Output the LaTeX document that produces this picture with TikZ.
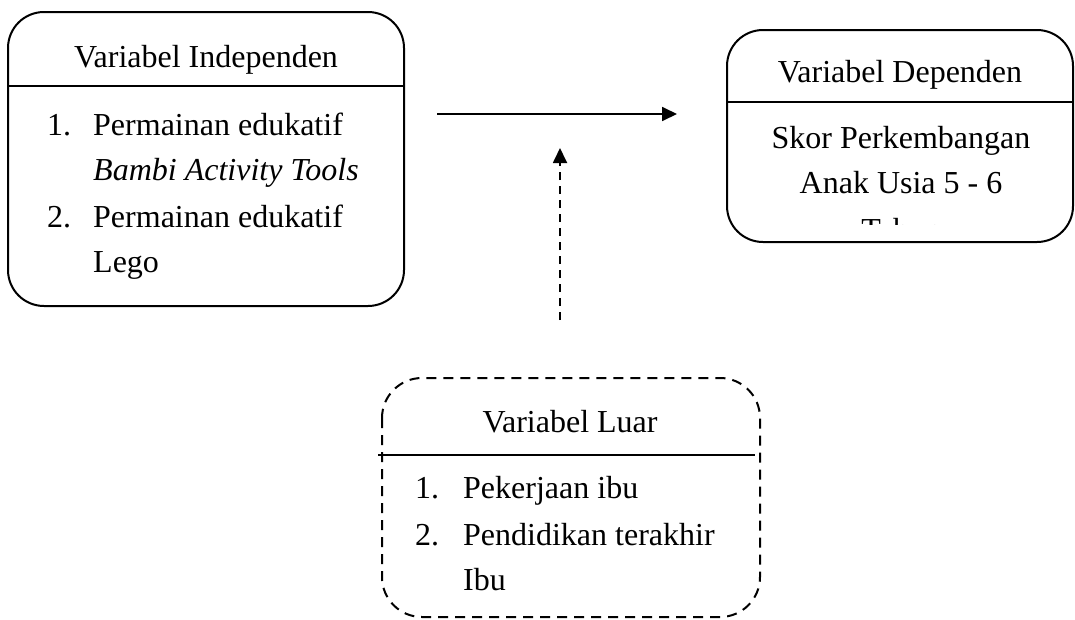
\documentclass[tikz,border=0pt]{standalone}
\usepackage{fontspec}
\setmainfont{Liberation Serif}
\usetikzlibrary{arrows.meta}

\tikzset{
  varbox/.style={line width=2pt, rounded corners=36pt},
  luarbox/.style={line width=2pt, rounded corners=40pt, dash pattern=on 10pt off 7pt},
  divider/.style={line width=2pt},
  txt/.style={inner sep=0pt, anchor=base},
  conn/.style={line width=1.8pt, -{Triangle[length=15pt,width=14pt]}},
}

\begin{document}
\begin{tikzpicture}[x=1pt,y=-1pt, font=\fontsize{32}{38}\selectfont]
  \useasboundingbox (0,0) rectangle (1075,619);

  % independent variable
  \draw[varbox] (8,12) rectangle (404,306);
  \draw[divider] (8,86) -- (404,86);
  \node[txt] (indtitle) at (206,67) {Variabel Independen};
  \foreach \n/\y in {1/135,2/227} {
    \node[txt, anchor=base west] (indnum\n) at (47,\y) {\n.};
    \node[txt, anchor=base west] (inditem\n) at (93,\y) {Permainan edukatif};
  }
  \node[txt, anchor=base west] (indsub1) at (93,180) {\textit{Bambi Activity Tools}};
  \node[txt, anchor=base west] (indsub2) at (93,272) {Lego};

  % dependent variable
  \draw[varbox] (727,30) rectangle (1073,242);
  \draw[divider] (727,102) -- (1073,102);
  \node[txt] (deptitle) at (900,82) {Variabel Dependen};
  \node[txt] (dep1) at (901,148) {Skor Perkembangan};
  \node[txt] (dep2) at (901,193) {Anak Usia 5 - 6};
  \begin{scope}
    \clip (727,30) rectangle (1073,224);
    \node[txt] (dep3) at (901,240) {Tahun};
  \end{scope}

  % outside variable
  \draw[luarbox] (382,378) rectangle (760,617);
  \draw[divider] (378,455) -- (755,455);
  \node[txt] (luartitle) at (570,432) {Variabel Luar};
  \foreach \n/\y/\t in {1/498/Pekerjaan ibu, 2/545/Pendidikan terakhir} {
    \node[txt, anchor=base west] (luarnum\n) at (415,\y) {\n.};
    \node[txt, anchor=base west] (luaritem\n) at (463,\y) {\t};
  }
  \node[txt, anchor=base west] (luarsub2) at (463,590) {Ibu};

  % arrows
  \coordinate (arrS) at (437,114);
  \coordinate (arrE) at (677,114);
  \draw[conn] (arrS) -- (arrE);
  \coordinate (dashS) at (560,320);
  \coordinate (dashE) at (560,148);
  \draw[conn, dash pattern=on 8pt off 6pt] (dashS) -- (dashE);

\end{tikzpicture}
\end{document}
